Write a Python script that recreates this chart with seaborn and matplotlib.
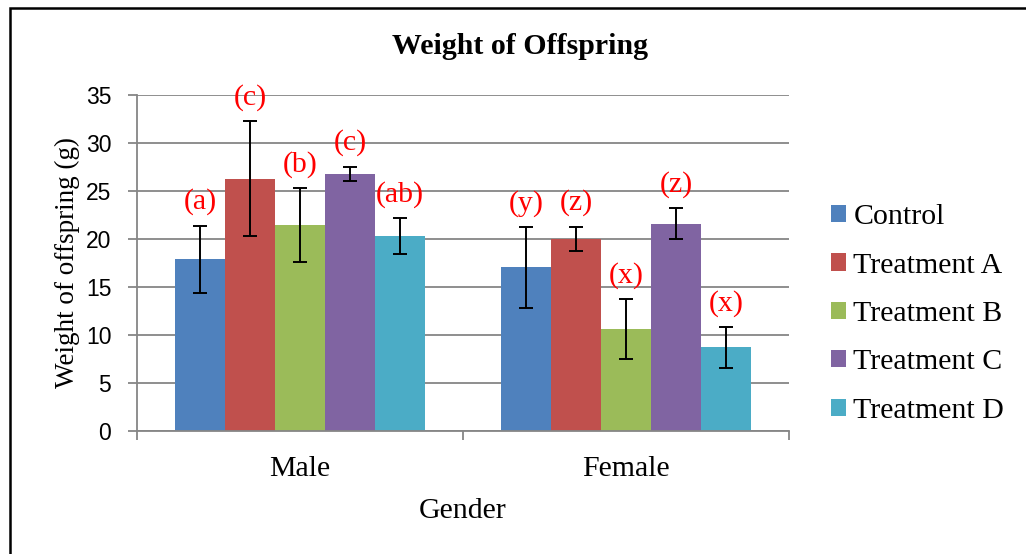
import numpy as np
import pandas as pd
import seaborn as sns
import matplotlib.pyplot as plt
from matplotlib.patches import Rectangle

genders = ['Male', 'Female']
groups = ['Control', 'Treatment A', 'Treatment B', 'Treatment C', 'Treatment D']
male_means = [17.9, 26.3, 21.45, 26.8, 20.3]
female_means = [17.05, 20.0, 10.6, 21.6, 8.7]
male_err = [3.5, 6.0, 3.85, 0.75, 1.9]
female_err = [4.2, 1.3, 3.1, 1.6, 2.1]
male_letters = ['(a)', '(c)', '(b)', '(c)', '(ab)']
female_letters = ['(y)', '(z)', '(x)', '(z)', '(x)']
colors = ['#4F81BD', '#C0504D', '#9BBB59', '#8064A2', '#4BACC6']

df = pd.DataFrame({
    'Gender': np.repeat(genders, len(groups)),
    'Group': groups * 2,
    'Weight': male_means + female_means,
    'Err': male_err + female_err,
    'Letter': male_letters + female_letters,
})

sns.set_style('white')
plt.rcParams['text.color'] = 'black'
plt.rcParams['axes.labelcolor'] = 'black'
serif = 'Liberation Serif'
grid_c = '#868686'
fs = 21.5

fig = plt.figure(figsize=(10.26, 5.54), dpi=100)
ax = fig.add_axes([137 / 1026, 1 - 431 / 554, 652 / 1026, 336 / 554])

sns.barplot(data=df, x='Gender', y='Weight', hue='Group', order=genders,
            hue_order=groups, palette=colors, width=0.767, linewidth=0,
            saturation=1, errorbar=None, ax=ax)

# error bars and significance letters at the centers of the drawn bars
bars = ax.patches[:len(df)]
for i, g in enumerate(groups):
    for j, gen in enumerate(genders):
        row = df[(df.Group == g) & (df.Gender == gen)].iloc[0]
        p = bars[i * len(genders) + j]
        xc = p.get_x() + p.get_width() / 2
        ax.errorbar(xc, row.Weight, yerr=row.Err, fmt='none', ecolor='black',
                    elinewidth=1.4, capsize=4.7, capthick=1.4)
        ax.annotate(row.Letter, (xc, row.Weight + row.Err), xytext=(0, 17),
                    textcoords='offset points', ha='center', va='center',
                    color='red', fontsize=fs, family=serif)

ax.set_ylim(0, 35)
ax.set_xlim(-0.5, 1.5)
ax.set_yticks(range(0, 36, 5))
ax.yaxis.grid(True, color=grid_c, linewidth=1.3)
ax.set_axisbelow(True)
for s in ['top', 'right']:
    ax.spines[s].set_visible(False)
for s in ['left', 'bottom']:
    ax.spines[s].set_color(grid_c)
    ax.spines[s].set_linewidth(1.3)

ax.tick_params(axis='y', left=True, length=6.5, width=1.3, color=grid_c, pad=12,
               labelsize=16.5, labelcolor='black')
for t in ax.get_yticklabels():
    t.set_family('Liberation Sans')
ax.set_xticks([-0.5, 0.5, 1.5], minor=True)
ax.tick_params(axis='x', which='major', length=0, pad=18, labelsize=fs, labelcolor='black')
ax.tick_params(axis='x', which='minor', bottom=True, length=6.5, width=1.3, color=grid_c)
for t in ax.get_xticklabels():
    t.set_family(serif)

ax.set_xlabel('Gender', fontsize=fs, family=serif)
ax.xaxis.set_label_coords(0.5, -0.2)
ax.set_ylabel('Weight of offspring (g)', fontsize=19.5, family=serif)
ax.yaxis.set_label_coords(-0.088, 0.5)

fig.text(520 / 1026, 1 - 46 / 554, 'Weight of Offspring', ha='center', va='center',
         fontsize=fs, fontweight='bold', family=serif)

ax.legend(loc='center left', bbox_to_anchor=(831 / 1026, 1 - 314 / 554),
          bbox_transform=fig.transFigure, frameon=False, borderpad=0, borderaxespad=0,
          handlelength=0.5, handleheight=0.5, handletextpad=0.25,
          labelspacing=0.75, prop={'family': serif, 'size': fs})

fig.add_artist(Rectangle((10 / 1026, -0.2), 1.2, 1.2 - 8 / 554, transform=fig.transFigure,
                         fill=False, edgecolor='black', linewidth=1.8))

fig.savefig('out.png', dpi=100)
